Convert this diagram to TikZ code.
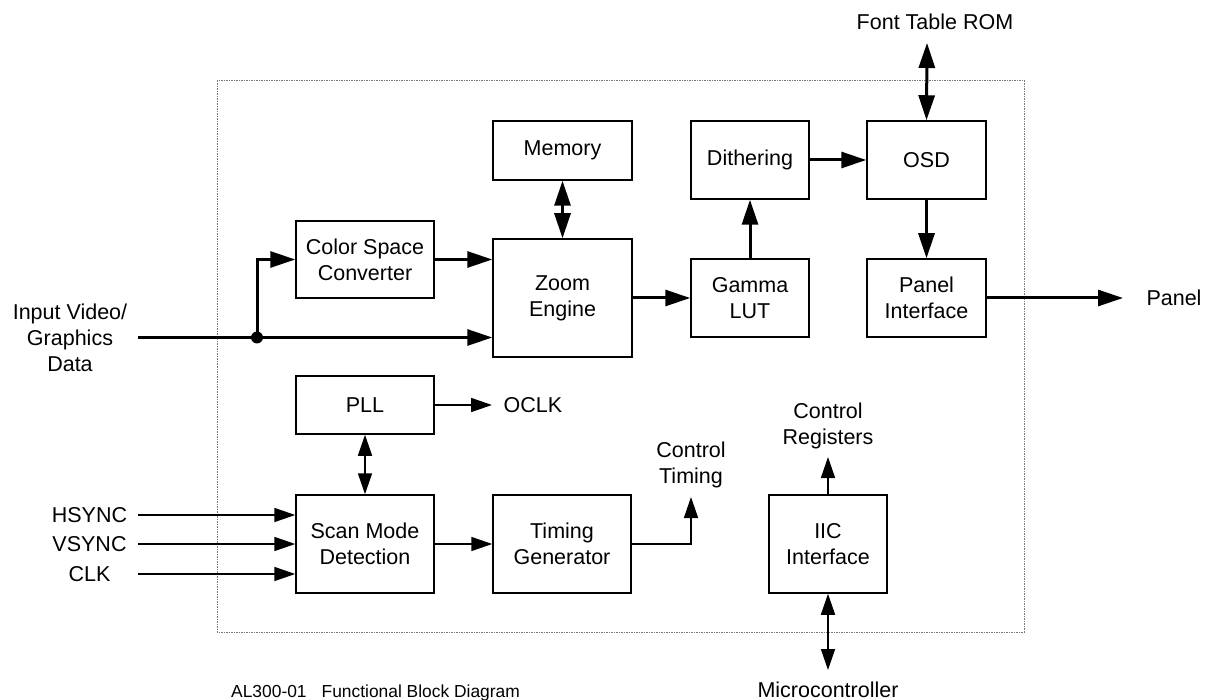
\documentclass[tikz,border=0pt]{standalone}
\usepackage{fontspec}
\setmainfont{Liberation Sans}
\usetikzlibrary{arrows.meta}
\definecolor{BLACK}{HTML}{000000}
\definecolor{GREY}{HTML}{7A7A7A}

\begin{document}
\begin{tikzpicture}[x=1pt, y=-1pt,
    block/.style={draw=BLACK, line width=1.5pt, fill=white, align=center, inner sep=0pt, font=\fontsize{21.5}{26}\selectfont},
    lbl/.style={BLACK, align=center, inner sep=0pt, font=\fontsize{21.5}{26}\selectfont},
    bus/.style={BLACK, line width=3pt, -{Triangle[length=25pt,width=16pt]}},
    busboth/.style={BLACK, line width=3pt, {Triangle[length=25pt,width=16pt]}-{Triangle[length=25pt,width=16pt]}},
    sig/.style={BLACK, line width=1.6pt, -{Triangle[length=21pt,width=14pt]}},
    sigboth/.style={BLACK, line width=1.6pt, {Triangle[length=21pt,width=14pt]}-{Triangle[length=21pt,width=14pt]}}]
    \useasboundingbox (0,0) rectangle (1205,700);
    \draw[GREY, line width=1pt, dash pattern=on 1.5pt off 1pt] (217,81) rectangle (1024,632);
    \node[block, minimum width=138pt, minimum height=77pt] (csc) at (365,259.5) {Color Space\\Converter};
    \node[block, minimum width=139pt, minimum height=59pt] (mem) at (562.5,150.5) {Memory};
    \node[block, minimum width=139pt, minimum height=118pt] (zoom) at (562.5,298) {Zoom\\Engine};
    \node[block, minimum width=118pt, minimum height=78pt] (dith) at (750,160) {Dithering};
    \node[block, minimum width=119pt, minimum height=78pt] (osd) at (926.5,160) {OSD};
    \node[block, minimum width=118pt, minimum height=78pt] (gamma) at (750,298) {Gamma\\LUT};
    \node[block, minimum width=119pt, minimum height=78pt] (panelif) at (926.5,298) {Panel\\Interface};
    \node[block, minimum width=138pt, minimum height=58pt] (pll) at (365,405) {PLL};
    \node[block, minimum width=138pt, minimum height=98pt] (scan) at (365,544) {Scan Mode\\Detection};
    \node[block, minimum width=138pt, minimum height=98pt] (tgen) at (562,544) {Timing\\Generator};
    \node[block, minimum width=118pt, minimum height=98pt] (iic) at (828,544) {IIC\\Interface};
    \node[lbl] (vin) at (70,337.5) {Input Video/\\Graphics\\Data};
    \node[lbl] (hs) at (89.5,515) {HSYNC};
    \node[lbl] (vs) at (89.5,544) {VSYNC};
    \node[lbl] (clk) at (89.5,574) {CLK};
    \node[lbl] (rom) at (935,22) {Font Table ROM};
    \node[lbl] (panel) at (1174,298) {Panel};
    \node[lbl] (oclk) at (533,405) {OCLK};
    \node[lbl] (ctim) at (691,465) {Control\\Timing};
    \node[lbl] (creg) at (828,426) {Control\\Registers};
    \node[lbl] (mcu) at (828,690) {Microcontroller};
    \node[BLACK, anchor=west, inner sep=0pt, font=\fontsize{17.4}{20}\selectfont] (cap) at (231,693) {AL300-01\hspace{15pt}Functional Block Diagram};
    \coordinate (inx) at (138,0);
    \coordinate (tap) at (257,337.5);
    \coordinate (romio) at (927,43);
    \coordinate (pout) at (1123,298);
    \coordinate (oclkin) at (492,405);
    \coordinate (ctimin) at (691,497);
    \coordinate (cregin) at (828,457);
    \coordinate (mcuio) at (828,670);
    \draw[BLACK, line width=3pt] (inx |- tap) -- (tap);
    \draw[bus] (tap) -- (zoom.west |- tap);
    \draw[bus] (tap) |- (csc.west);
    \fill[BLACK] (tap) circle (6pt);
    \draw[bus] (csc.east) -- (zoom.west |- csc.east);
    \draw[busboth] (mem.south) -- (zoom.north);
    \draw[bus] (zoom.east) -- (gamma.west);
    \draw[bus] (gamma.north) -- (dith.south);
    \draw[bus] (dith.east) -- (osd.west);
    \draw[busboth] (romio) -- (osd.north);
    \draw[bus] (osd.south) -- (panelif.north);
    \draw[bus] (panelif.east) -- (pout);
    \draw[sig] (inx |- hs) -- (scan.west |- hs);
    \draw[sig] (inx |- vs) -- (scan.west |- vs);
    \draw[sig] (inx |- clk) -- (scan.west |- clk);
    \draw[sig] (pll.east) -- (oclkin);
    \draw[sigboth] (pll.south) -- (scan.north);
    \draw[sig] (scan.east) -- (tgen.west);
    \draw[sig] (tgen.east) -| (ctimin);
    \draw[sig] (iic.north) -- (cregin);
    \draw[sigboth] (iic.south) -- (mcuio);
\end{tikzpicture}
\end{document}
